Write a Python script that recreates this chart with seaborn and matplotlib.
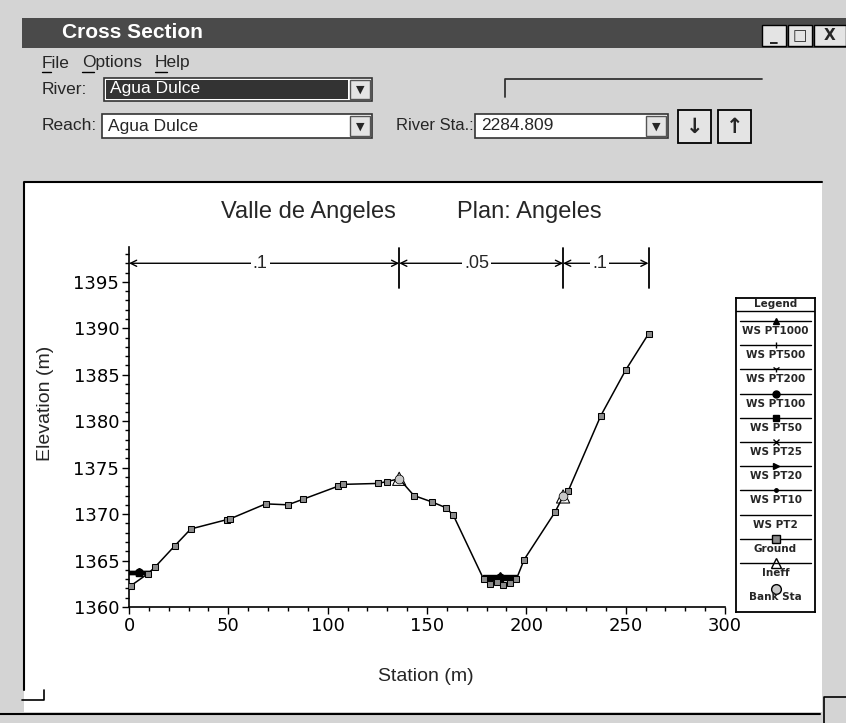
import numpy as np
import pandas as pd
import seaborn as sns
import matplotlib.pyplot as plt
from matplotlib.patches import Rectangle
from matplotlib.lines import Line2D
from matplotlib.ticker import MultipleLocator

# ground profile
station = [1.0, 9.6, 13.1, 23.1, 31.1, 49.2, 51.0, 68.8, 80.0, 87.6, 105.2, 107.7,
           125.3, 129.7, 136.0, 143.4, 152.6, 159.4, 163.2, 178.5, 181.5, 185.0,
           188.5, 192.0, 195.0, 198.9, 214.4, 218.5, 221.1, 237.5, 250.0, 261.5]
elevation = [1362.3, 1363.6, 1364.3, 1366.6, 1368.4, 1369.4, 1369.5, 1371.1, 1371.0,
             1371.6, 1373.0, 1373.2, 1373.3, 1373.5, 1373.8, 1372.0, 1371.3, 1370.7,
             1369.9, 1363.0, 1362.5, 1362.7, 1362.4, 1362.6, 1363.0, 1365.1, 1370.2,
             1371.9, 1372.5, 1380.6, 1385.5, 1389.4]

# bank stations
bank_sta = [136.0, 218.5]
bank_elev = [1373.8, 1371.9]

# manning n values and their limits
n_labels = ['.1', '.05', '.1']
n_bounds = [0, 136.0, 218.5, 261.5]
n_label_x = [66, 175, 237]

# water surface profiles (left pond and main channel)
ws_names = ['WS PT1000', 'WS PT500', 'WS PT200', 'WS PT100', 'WS PT50',
            'WS PT25', 'WS PT20', 'WS PT10', 'WS PT2']
ws_left = [1363.9, 1363.85, 1363.8, 1363.75, 1363.7, 1363.7, 1363.65, 1363.6, 1363.5]
ws_chan = [1363.4, 1363.3, 1363.25, 1363.2, 1363.15, 1363.1, 1363.05, 1363.0, 1362.9]
ws_left_x = [0.0, 10.5]
ws_chan_x = [178.0, 195.5]
ws_markers = ['^', '|', '1', 'o', 's', 'x', '>', '.', '']

legend_names = ws_names + ['Ground', 'Ineff', 'Bank Sta']

W, H = 846, 723


def fx(x):
    return x / W


def fy(y):
    return 1 - y / H


def rect(x0, y0, x1, y1, **kw):
    kw.setdefault('zorder', -5)
    fig.add_artist(Rectangle((fx(x0), fy(y1)), (x1 - x0) / W, (y1 - y0) / H,
                             transform=fig.transFigure, **kw))


def line(xs, ys, **kw):
    fig.add_artist(Line2D([fx(v) for v in xs], [fy(v) for v in ys],
                          transform=fig.transFigure, **kw))


def txt(x, y, s, **kw):
    kw.setdefault('family', 'Liberation Sans')
    kw.setdefault('va', 'center')
    fig.text(fx(x), fy(y), s, **kw)


sns.set_style('ticks')
plt.rcParams['font.family'] = ['DejaVu Sans']

fig = plt.figure(figsize=(W / 100, H / 100), dpi=100)
fig.patch.set_facecolor('#d4d4d4')

# ---- window chrome ----
rect(22, 18, 846, 48, facecolor='#4a4a4a', edgecolor='none')
txt(62, 33, 'Cross Section', color='white', fontsize=15, fontweight='bold')
for x0, x1, g in [(762, 786, '_'), (788, 812, '□'), (814, 846, 'X')]:
    rect(x0, 25, x1, 46, facecolor='#e4e4e4', edgecolor='black', lw=1)
    txt((x0 + x1) / 2, 36, g, ha='center', fontsize=11, fontweight='bold',
        family='DejaVu Sans')

for x, s, w in [(42, 'File', 9), (82, 'Options', 12), (155, 'Help', 12)]:
    txt(x, 63, s, fontsize=12.5)
    line([x, x + w], [72, 72], color='black', lw=1)

txt(42, 89, 'River:', fontsize=12.5)
rect(104, 78, 372, 101, facecolor='white', edgecolor='#333333', lw=1.2)
rect(106, 80, 348, 99, facecolor='#333333', edgecolor='none')
txt(110, 89, 'Agua Dulce', color='white', fontsize=12.5)
rect(350, 80, 370, 99, facecolor='#e4e4e4', edgecolor='#555555', lw=1)
txt(360, 90, '▼', ha='center', fontsize=8, family='DejaVu Sans')
line([505, 505, 762], [97, 79, 79], color='#333333', lw=1.3)

txt(42, 126, 'Reach:', fontsize=12.5)
rect(102, 114, 372, 138, facecolor='white', edgecolor='#333333', lw=1.2)
txt(108, 126, 'Agua Dulce', fontsize=12.5)
rect(350, 116, 370, 136, facecolor='#e4e4e4', edgecolor='#555555', lw=1)
txt(360, 127, '▼', ha='center', fontsize=8, family='DejaVu Sans')
txt(396, 126, 'River Sta.:', fontsize=12)
rect(475, 114, 668, 138, facecolor='white', edgecolor='#333333', lw=1.2)
txt(481, 126, '2284.809', fontsize=12.5)
rect(646, 116, 666, 136, facecolor='#e4e4e4', edgecolor='#555555', lw=1)
txt(656, 127, '▼', ha='center', fontsize=8, family='DejaVu Sans')
for x0, g in [(678, '↓'), (718, '↑')]:
    rect(x0, 110, x0 + 33, 143, facecolor='#e4e4e4', edgecolor='black', lw=1.3)
    txt(x0 + 16.5, 127, g, ha='center', fontsize=15, fontweight='bold',
        family='DejaVu Sans')

# plot panel
rect(24, 182, 822, 712, facecolor='white', edgecolor='none')
line([24, 24, 822], [690, 182, 182], color='black', lw=1.5)
line([0, 820], [714, 714], color='black', lw=1.5)
line([22, 44, 44], [700, 700, 690], color='black', lw=1.2)
line([846, 824, 824], [697, 697, 723], color='black', lw=1.2)

# ---- cross section axes ----
ax = fig.add_axes([fx(129), fy(607), (725 - 129) / W, (607 - 247) / H])
ax.set_facecolor('none')

ground = pd.DataFrame({'Station': station, 'Elevation': elevation})
sns.lineplot(data=ground, x='Station', y='Elevation', sort=False, ax=ax,
             color='black', lw=1.1, marker='s', markersize=5,
             markerfacecolor='#8c8c8c', markeredgecolor='black', zorder=4)

for name, yl, yc, m in zip(ws_names, ws_left, ws_chan, ws_markers):
    for xs, yv in [(ws_left_x, yl), (ws_chan_x, yc)]:
        xm = [xs[0], (xs[0] + xs[1]) / 2, xs[1]]
        ax.plot(xm, [yv] * 3, color='black', lw=1, marker=m if m else None,
                markevery=[1], markersize=5, zorder=3)

banks = pd.DataFrame({'Station': bank_sta, 'Elevation': bank_elev})
sns.scatterplot(data=banks, x='Station', y='Elevation', ax=ax, marker='^',
                s=90, facecolor='none', edgecolor='black', zorder=5)
sns.scatterplot(data=banks, x='Station', y='Elevation', ax=ax, marker='o',
                s=40, color='#c8c8c8', edgecolor='black', zorder=6)

# manning n bars
y_n = 1397.0
for i, lab in enumerate(n_labels):
    ax.annotate('', xy=(n_bounds[i], y_n), xytext=(n_bounds[i + 1], y_n),
                arrowprops=dict(arrowstyle='<->', color='black', lw=1,
                                shrinkA=0, shrinkB=0, mutation_scale=11))
    ax.text(n_label_x[i], y_n, lab, ha='center', va='center', fontsize=13,
            family='Liberation Sans',
            bbox=dict(facecolor='white', edgecolor='none', pad=1.5), zorder=5)
for b in n_bounds[1:]:
    ax.plot([b, b], [1394.3, 1398.6], color='black', lw=1.3)

ax.set_xlim(0, 300)
ax.set_ylim(1360, 1360 + (607 - 247) / 9.29)
ax.xaxis.set_major_locator(MultipleLocator(50))
ax.xaxis.set_minor_locator(MultipleLocator(10))
ax.yaxis.set_major_locator(MultipleLocator(5))
ax.yaxis.set_minor_locator(MultipleLocator(1))
ax.set_yticks(np.arange(1360, 1396, 5))
ax.tick_params(which='major', direction='out', length=5, width=1, pad=2,
               labelsize=13, color='black', labelcolor='black')
ax.tick_params(which='minor', direction='out', length=3, width=1, color='black')
sns.despine(ax=ax)
for s in ['left', 'bottom']:
    ax.spines[s].set_color('black')
    ax.spines[s].set_linewidth(1.2)

ax.set_xlabel('Station (m)', fontsize=14, family='Liberation Sans')
ax.set_ylabel('Elevation (m)', fontsize=14, family='Liberation Sans')
ax.xaxis.set_label_coords((426 - 129) / 596, -(668 - 607) / 360)
ax.yaxis.set_label_coords(-(129 - 54) / 596, (607 - 403) / 360)

txt(221, 212, 'Valle de Angeles', fontsize=17, ha='left')
txt(457, 212, 'Plan: Angeles', fontsize=17, ha='left')

# ---- legend box ----
lax = fig.add_axes([fx(736), fy(612), (815 - 736) / W, (612 - 298) / H])
lax.set_xlim(0, 1)
lax.set_ylim(612, 298)
lax.set_xticks([])
lax.set_yticks([])
for s in lax.spines.values():
    s.set_visible(True)
    s.set_linewidth(1.3)
    s.set_color('black')
lax.text(0.5, 304, 'Legend', ha='center', va='center', fontsize=7.5,
         fontweight='bold')
lax.axhline(311, color='black', lw=1)

entry_y = 321
for i, name in enumerate(legend_names):
    ly = entry_y + i * 24.2
    if name == 'Bank Sta':
        lax.plot([0.5], [ly + 2], marker='o', markersize=7, color='#c8c8c8',
                 markeredgecolor='black')
    else:
        if name in ws_names:
            m = ws_markers[ws_names.index(name)]
            kw = dict(marker=m if m else None, markersize=5)
        elif name == 'Ground':
            kw = dict(marker='s', markersize=6, markerfacecolor='#8c8c8c',
                      markeredgecolor='black')
        else:
            kw = dict(marker='^', markersize=7, markerfacecolor='none',
                      markeredgecolor='black')
        lax.plot([0.05, 0.5, 0.95], [ly] * 3, color='black', lw=1,
                 markevery=[1], **kw)
    lax.text(0.5, ly + 10, name, ha='center', va='center', fontsize=7.5,
             fontweight='bold')

fig.savefig('out.png', dpi=100, facecolor=fig.get_facecolor())
